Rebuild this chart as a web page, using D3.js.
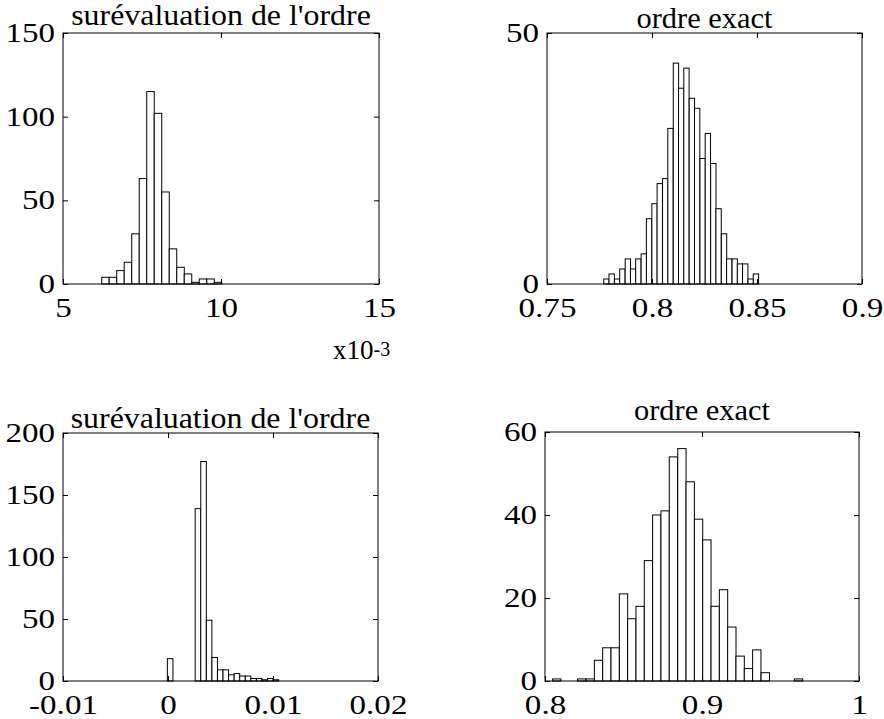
<!DOCTYPE html>
<html>
<head>
<meta charset="utf-8">
<script src="https://cdn.jsdelivr.net/npm/d3@7"></script>
<style>
  html, body { margin: 0; padding: 0; background: #fff; }
  svg { display: block; }
</style>
</head>
<body>
<svg id="chart" width="884" height="719"></svg>
<script>
// ---------- DATA ----------
// Panel 1 : surévaluation de l'ordre (x in units of 1e-3)
const p1Centers = [6.344, 6.581, 6.819, 7.056, 7.294, 7.531, 7.769, 8.006, 8.244, 8.481, 8.719, 8.956, 9.194, 9.431, 9.669, 9.906];
const p1Counts  = [4, 4, 8, 13, 30, 63, 115, 102, 55, 21, 10, 6, 1, 3, 3, 1];
const p1BinWidth = 0.2375;
const p1XTicks = [5, 10, 15];
const p1XLabels = ["5", "10", "15"];
const p1YTicks = [0, 50, 100, 150];

// Panel 2 : ordre exact (top)
const p2Centers = [0.7783, 0.7808, 0.7834, 0.7859, 0.7885, 0.7910, 0.7935, 0.7961, 0.7986, 0.8012,
                   0.8037, 0.8063, 0.8088, 0.8114, 0.8139, 0.8164, 0.8190, 0.8215, 0.8241, 0.8266,
                   0.8292, 0.8317, 0.8343, 0.8368, 0.8394, 0.8419, 0.8444, 0.8470, 0.8495];
const p2Counts  = [1, 2, 1, 3, 5, 3, 5, 6, 13, 16,
                   20, 21, 31, 44, 39, 43, 37, 35, 25, 30,
                   24, 15, 10, 5, 5, 4, 4, 1, 2];
const p2BinWidth = 0.002545;
const p2XTicks = [0.75, 0.8, 0.85, 0.9];
const p2XLabels = ["0.75", "0.8", "0.85", "0.9"];
const p2YTicks = [0, 50];

// Panel 3 : surévaluation de l'ordre (bottom)
const p3Centers = [0.000205, 0.002855, 0.003385, 0.003915, 0.004445, 0.004975, 0.005505, 0.006035,
                   0.006565, 0.007095, 0.007625, 0.008155, 0.008685, 0.009215, 0.009745, 0.010275];
const p3Counts  = [18, 139, 177, 49, 19, 9, 9, 5, 6, 4, 4, 2, 2, 1, 2, 1];
const p3BinWidth = 0.00053;
const p3XTicks = [-0.01, 0, 0.01, 0.02];
const p3XLabels = ["-0.01", "0", "0.01", "0.02"];
const p3YTicks = [0, 50, 100, 150, 200];

// Panel 4 : ordre exact (bottom)
const p4Centers = [0.8075, 0.8234, 0.8288,
                   0.8341, 0.8394, 0.8447, 0.8500, 0.8553, 0.8606, 0.8659, 0.8712, 0.8765, 0.8818,
                   0.8872, 0.8925, 0.8978, 0.9031, 0.9084, 0.9137, 0.9190, 0.9243, 0.9296, 0.9349,
                   0.9403, 0.9615];
const p4Counts  = [0.5, 0.5, 0.5,
                   5, 8, 8, 21, 15, 18, 29, 40, 41, 54,
                   56, 48, 39, 34, 18, 22, 13, 6, 3, 7.5,
                   2, 0.5];
const p4BinWidth = 0.00531;
const p4XTicks = [0.8, 0.9, 1];
const p4XLabels = ["0.8", "0.9", "1"];
const p4YTicks = [0, 20, 40, 60];

const titles = ["surévaluation de l'ordre", "ordre exact", "surévaluation de l'ordre", "ordre exact"];

// ---------- LAYOUT ----------
const panels = [
  { centers: p1Centers, counts: p1Counts, bw: p1BinWidth, xDomain: [5, 15],       yDomain: [0, 150], xTicks: p1XTicks, xLabels: p1XLabels, yTicks: p1YTicks, title: titles[0], box: [63, 33, 379, 284],  titleGap: 8,  titleSX: 1.1 },
  { centers: p2Centers, counts: p2Counts, bw: p2BinWidth, xDomain: [0.75, 0.9],   yDomain: [0, 50],  xTicks: p2XTicks, xLabels: p2XLabels, yTicks: p2YTicks, title: titles[1], box: [547, 33, 862, 284], titleGap: 5,  titleSX: 1.05 },
  { centers: p3Centers, counts: p3Counts, bw: p3BinWidth, xDomain: [-0.01, 0.02], yDomain: [0, 200], xTicks: p3XTicks, xLabels: p3XLabels, yTicks: p3YTicks, title: titles[2], box: [63, 433, 378, 681], titleGap: 5,  titleSX: 1.1 },
  { centers: p4Centers, counts: p4Counts, bw: p4BinWidth, xDomain: [0.8, 1],      yDomain: [0, 60],  xTicks: p4XTicks, xLabels: p4XLabels, yTicks: p4YTicks, title: titles[3], box: [545, 432, 859, 681], titleGap: 12, titleSX: 1.05 }
];

const FONT = '"Liberation Serif"';
const TICK_FS = 28, TICK_SX = 1.18;
const TITLE_FS = 29;

const svg = d3.select("#chart");
svg.append("rect").attr("width", 884).attr("height", 719).attr("fill", "#fff");

panels.forEach(p => {
  const [x0, y0, x1, y1] = p.box;
  const w = x1 - x0, h = y1 - y0;
  const g = svg.append("g").attr("transform", `translate(${x0},${y0})`);
  const x = d3.scaleLinear().domain(p.xDomain).range([0, w]);
  const y = d3.scaleLinear().domain(p.yDomain).range([h, 0]);

  // bars
  g.append("g").selectAll("rect")
    .data(p.centers.map((c, i) => ({ c, v: p.counts[i] })))
    .join("rect")
    .attr("x", d => x(d.c - p.bw / 2))
    .attr("width", d => x(d.c + p.bw / 2) - x(d.c - p.bw / 2))
    .attr("y", d => y(d.v))
    .attr("height", d => y(0) - y(d.v))
    .attr("fill", "#fff")
    .attr("stroke", "#000")
    .attr("stroke-width", 1);

  const labelMap = new Map(p.xTicks.map((t, i) => [t, p.xLabels[i]]));

  // axes with inward ticks
  const bottom = g.append("g").attr("transform", `translate(0,${h})`)
    .call(d3.axisBottom(x).tickValues(p.xTicks).tickSizeInner(-5).tickSizeOuter(0).tickPadding(13)
      .tickFormat(d => labelMap.get(d)));
  const top = g.append("g")
    .call(d3.axisTop(x).tickValues(p.xTicks).tickSizeInner(-5).tickSizeOuter(0).tickFormat(""));
  const left = g.append("g")
    .call(d3.axisLeft(y).tickValues(p.yTicks).tickSizeInner(-5).tickSizeOuter(0).tickPadding(8)
      .tickFormat(d3.format("d")));
  const right = g.append("g").attr("transform", `translate(${w},0)`)
    .call(d3.axisRight(y).tickValues(p.yTicks).tickSizeInner(-5).tickSizeOuter(0).tickFormat(""));

  [bottom, top, left, right].forEach(a => {
    a.attr("font-family", null).attr("font-size", null);
    a.select(".domain").remove();
    a.selectAll("line").attr("stroke", "#000");
  });
  [bottom, left].forEach(a => {
    a.selectAll("text")
      .style("font-family", FONT)
      .style("font-size", TICK_FS + "px")
      .attr("fill", "#000")
      .attr("x", function () { return (+d3.select(this).attr("x") || 0) / TICK_SX; })
      .attr("transform", `scale(${TICK_SX},1)`);
  });
  bottom.selectAll("text").attr("dy", "0.71em");
  left.selectAll("text").attr("dy", "0.3em");

  // box
  g.append("rect").attr("x", 0).attr("y", 0).attr("width", w).attr("height", h)
    .attr("fill", "none").attr("stroke", "#000").attr("stroke-width", 1);

  // title
  g.append("text")
    .attr("transform", `translate(${w / 2},${-p.titleGap}) scale(${p.titleSX},1)`)
    .attr("text-anchor", "middle")
    .style("font-family", FONT).style("font-size", TITLE_FS + "px")
    .attr("fill", "#000")
    .text(p.title);
});

// exponent label for panel 1
const ex = svg.append("text").attr("x", 333).attr("y", 359)
  .style("font-family", FONT).style("font-size", "27px").attr("fill", "#000");
ex.append("tspan").text("x10");
ex.append("tspan").style("font-size", "20px").attr("dy", -3).text("-3");
</script>
</body>
</html>
